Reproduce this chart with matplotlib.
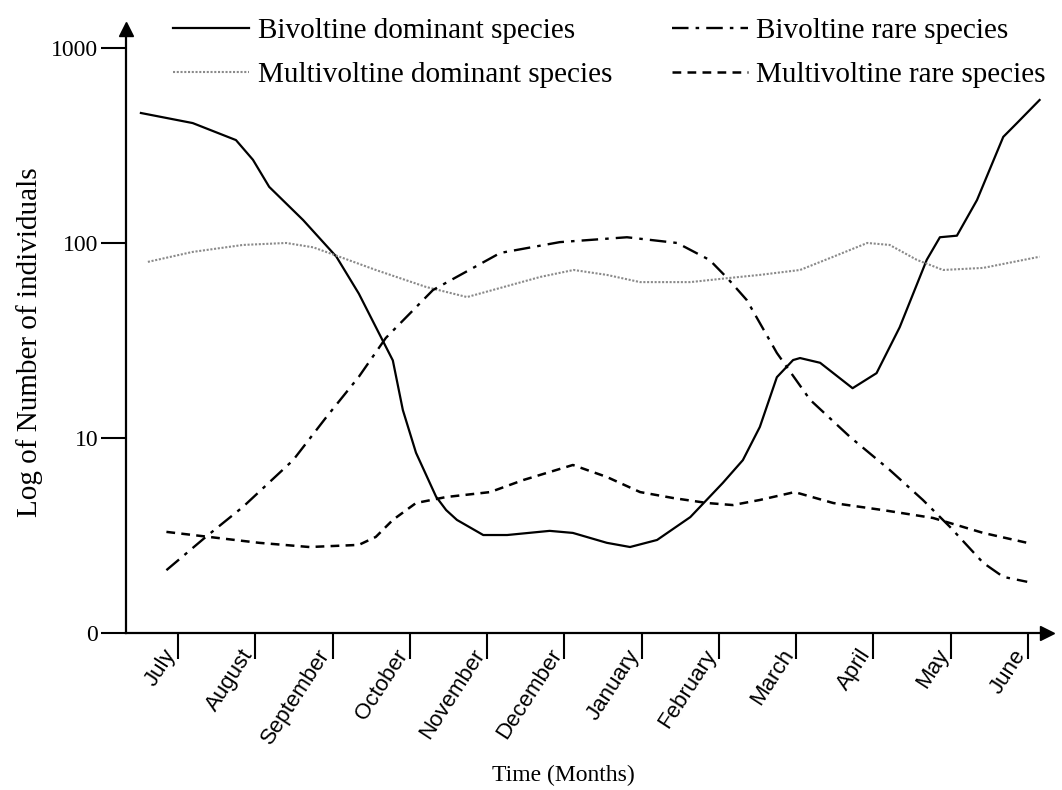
import matplotlib
matplotlib.use("Agg")
import matplotlib.pyplot as plt
import numpy as np

months = ["July", "August", "September", "October", "November", "December",
          "January", "February", "March", "April", "May", "June"]

# values (x in months, July = 0)
biv_dom_x = [0.02, 0.69, 1.25, 1.47, 1.68, 2.12, 2.55, 2.84, 3.10, 3.28, 3.41, 3.58,
             3.84, 3.97, 4.11, 4.45, 4.76, 5.31, 5.61, 6.05, 6.35, 6.70, 7.13, 7.55,
             7.81, 8.03, 8.25, 8.46, 8.55, 8.81, 9.23, 9.54, 9.84, 10.19, 10.36, 10.58,
             10.84, 11.18, 11.36, 11.65]
biv_dom_y = [464, 412, 337, 267, 194, 131, 85, 55, 34.5, 25, 13.9, 8.4,
             5.0, 4.27, 3.80, 3.18, 3.18, 3.34, 3.26, 2.90, 2.76, 3.0, 3.93, 5.88,
             7.7, 11.4, 20.5, 25.1, 25.7, 24.3, 18.0, 21.5, 37, 82, 107, 109,
             166, 350, 413, 541]

multi_dom_x = [0.11, 0.69, 1.34, 1.90, 2.25, 2.59, 3.06, 3.71, 4.24, 4.67, 5.19, 5.62,
               6.05, 6.48, 7.13, 7.61, 8.03, 8.55, 8.98, 9.42, 9.71, 10.06, 10.40,
               10.92, 11.65]
multi_dom_y = [80, 90, 97.7, 100, 95, 85, 72.7, 59.5, 52.8, 58.8, 67, 72.7,
               68.6, 63, 63, 66, 68.6, 72.7, 85, 100, 97.7, 82, 72.7,
               74.5, 85]

biv_rare_x = [0.35, 0.86, 1.34, 1.99, 2.42, 2.84, 3.19, 3.80, 4.67, 5.44, 6.31, 6.96,
              7.38, 7.61, 7.86, 8.25, 8.68, 9.20, 9.71, 10.14, 10.49, 10.92, 11.18, 11.49]
biv_rare_y = [2.10, 3.11, 4.43, 7.7, 12.8, 20.6, 32.6, 57.4, 88.9, 101, 107, 100,
              81.8, 66, 51, 27.3, 15.7, 10.1, 6.86, 4.81, 3.50, 2.29, 1.94, 1.83]

multi_rare_x = [0.35, 0.90, 1.55, 2.20, 2.84, 3.06, 3.28, 3.58, 3.97, 4.54, 4.97, 5.61,
                6.05, 6.48, 6.91, 7.35, 7.68, 8.03, 8.48, 8.98, 9.62, 10.27, 10.92, 11.49]
multi_rare_y = [3.30, 3.11, 2.90, 2.76, 2.83, 3.11, 3.80, 4.64, 4.98, 5.28, 6.09, 7.27,
                6.31, 5.28, 4.92, 4.64, 4.53, 4.81, 5.28, 4.64, 4.27, 3.89, 3.26, 2.90]

serif = ["Liberation Serif", "DejaVu Serif"]
sans = ["Liberation Sans", "DejaVu Sans"]

fig = plt.figure(figsize=(10.62, 7.9), dpi=100)
ax = fig.add_axes([126 / 1062, 157 / 790, 921 / 1062, 604 / 790])

ax.plot(biv_dom_x, biv_dom_y, color="black", lw=1.6, ls="-",
        solid_joinstyle="round", label="Bivoltine dominant species")
ax.plot(multi_dom_x, multi_dom_y, color="#8a8a8a", lw=1.5, ls=(0, (1, 0.8)),
        label="Multivoltine dominant species")
ax.plot(biv_rare_x, biv_rare_y, color="black", lw=1.7, ls=(0, (7, 3, 1.5, 3)),
        label="Bivoltine rare species")
ax.plot(multi_rare_x, multi_rare_y, color="black", lw=1.8, ls=(0, (3.5, 2.5)),
        label="Multivoltine rare species")

ax.set_yscale("log")
ax.set_ylim(1, 1251)
ax.set_xlim(-0.173, 11.746)

ax.set_yticks([1, 10, 100, 1000])
ax.set_yticklabels(["0", "10", "100", "1000"], family=serif, fontsize=17)
ax.yaxis.set_minor_locator(matplotlib.ticker.NullLocator())
ax.tick_params(axis="y", length=18, width=1.5, pad=2)

ax.set_xticks(np.arange(12) + 0.3)
ax.set_xticklabels(months, rotation=57, ha="right", rotation_mode="anchor",
                   family=sans, fontsize=16)
ax.set_xticks(np.arange(12) + 0.5, minor=True)
ax.tick_params(axis="x", which="major", length=0, pad=9)
ax.tick_params(axis="x", which="minor", length=19, width=1.5)

for s in ["top", "right"]:
    ax.spines[s].set_visible(False)
for s in ["left", "bottom"]:
    ax.spines[s].set_linewidth(1.6)

# arrow heads on the axes
ax.plot(1, 0, ">", color="black", ms=10, transform=ax.transAxes, clip_on=False)
ax.plot(0, 1, "^", color="black", ms=10, transform=ax.transAxes, clip_on=False)

fig.text(30 / 1062, 1 - 342 / 790, "Log of Number of individuals", rotation=90,
         ha="center", va="center", family=serif, fontsize=21)
fig.text(563 / 1062, 1 - 775 / 790, "Time (Months)", ha="center", va="center",
         family=serif, fontsize=17)

fig.legend(loc="upper left", bbox_to_anchor=(173 / 1062, 1 - 18 / 790), ncol=2,
           frameon=False, prop={"family": serif, "size": 21}, handlelength=2.6,
           handletextpad=0.3, columnspacing=2.05, labelspacing=0.6,
           borderpad=0, borderaxespad=0)

fig.savefig("out.png", dpi=100)
